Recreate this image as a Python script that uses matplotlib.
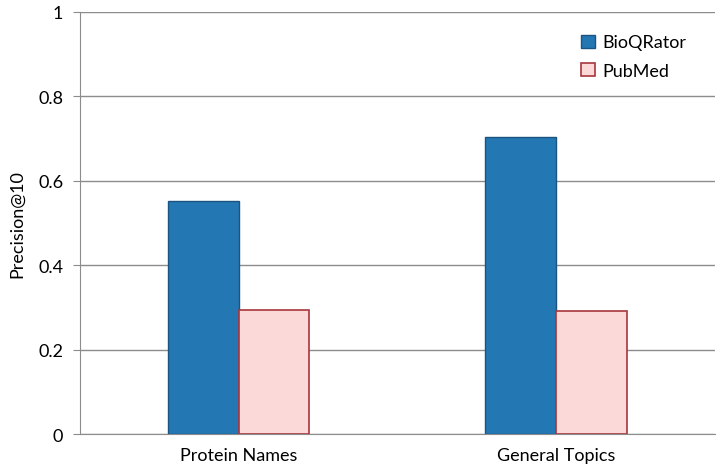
import numpy as np
import matplotlib
matplotlib.use('Agg')
import matplotlib.pyplot as plt

categories = ['Protein Names', 'General Topics']
bioqrator = [0.552, 0.704]
pubmed = [0.294, 0.291]

plt.rcParams['font.family'] = ['Lato', 'DejaVu Sans']

fig = plt.figure(figsize=(7.2, 4.77), dpi=100)
ax = fig.add_axes([0.111, 0.088, 0.882, 0.885])

x = np.arange(len(categories)) + 0.5
w = 0.223
ax.bar(x - w/2, bioqrator, w, color='#2378b3', edgecolor='#1b5480', linewidth=1.0,
       label='BioQRator', zorder=3)
ax.bar(x + w/2, pubmed, w, color='#fbd9d8', edgecolor='#a8363c', linewidth=1.2,
       label='PubMed', zorder=3)

ax.set_xlim(0, 2)
ax.set_ylim(0, 1)
ax.set_yticks([0, 0.2, 0.4, 0.6, 0.8, 1])
ax.set_yticklabels(['0', '0.2', '0.4', '0.6', '0.8', '1'])
ax.set_xticks(x)
ax.set_xticklabels(categories)
ax.yaxis.grid(True, color='#8c8c8c', linewidth=1.0, zorder=0)
ax.set_axisbelow(True)

for s in ['top', 'right']:
    ax.spines[s].set_visible(False)
ax.spines['left'].set_color('#8c8c8c')
ax.spines['bottom'].set_color('#8c8c8c')
ax.tick_params(axis='y', direction='out', length=5, color='#8c8c8c', labelsize=13, pad=7)
ax.tick_params(axis='x', length=0, labelsize=13, pad=9)
ax.set_ylabel('Precision@10', fontsize=13, labelpad=9)

ax.legend(loc='upper right', bbox_to_anchor=(0.98, 0.985), frameon=False, fontsize=13,
          handlelength=0.75, handleheight=0.75, handletextpad=0.4, labelspacing=0.7)

fig.savefig('out.png', dpi=100)
